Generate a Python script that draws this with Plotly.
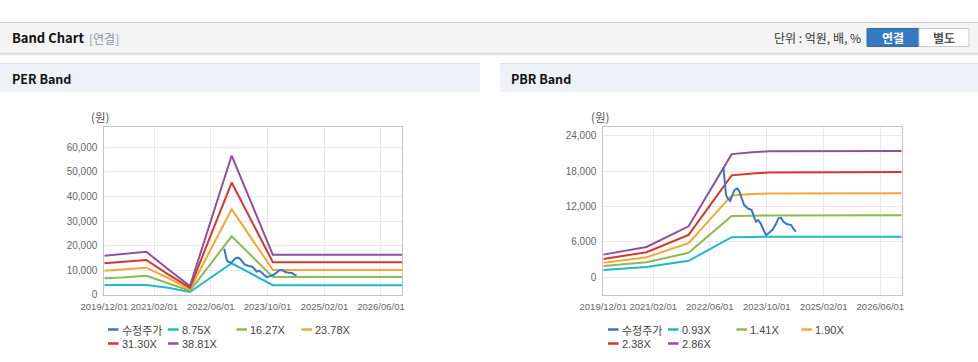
import plotly.graph_objects as go

W, H = 978, 362

# ---------------- data ----------------
per_dates = ["2019-12-01", "2020-05-01", "2020-11-25", "2021-06-01", "2021-12-05",
             "2022-11-28", "2023-11-16", "2026-12-01"]
per_875 = [3950, 3950, 3950, 2850, 1100, 12800, 3900, 3900]
per_1627 = [6700, 7000, 7750, 4650, 1600, 23800, 7250, 7250]
per_2378 = [9800, 10200, 11000, 6800, 2200, 34800, 10100, 10100]
per_3130 = [12800, 13300, 14150, 8300, 2850, 45700, 13250, 13250]
per_3881 = [15900, 16500, 17500, 10350, 3500, 56700, 16250, 16250]

pbr_dates = ["2019-12-01", "2020-12-05", "2021-12-01", "2022-12-05", "2023-06-01",
             "2023-10-20", "2026-12-01"]
pbr_093 = [1240, 1750, 2800, 6800, 6850, 6900, 6900]
pbr_141 = [1900, 2550, 4150, 10400, 10450, 10500, 10550]
pbr_190 = [2450, 3400, 5800, 13900, 14150, 14200, 14250]
pbr_238 = [3100, 4250, 7200, 17300, 17600, 17800, 17850]
pbr_286 = [3850, 5150, 8650, 20900, 21200, 21400, 21450]

price_dates = ["2022-09-25", "2022-10-04", "2022-10-18", "2022-11-01", "2022-11-22",
               "2022-12-07", "2022-12-28", "2023-01-22", "2023-02-10", "2023-03-01",
               "2023-03-22", "2023-04-22", "2023-05-25", "2023-06-15", "2023-07-01",
               "2023-07-20", "2023-08-10", "2023-09-04", "2023-09-25", "2023-10-22",
               "2023-11-18", "2023-12-15", "2024-01-10", "2024-02-01", "2024-02-22",
               "2024-03-20", "2024-04-28", "2024-05-15", "2024-06-06"]
price_values = [18700, 17050, 13950, 13390, 12985, 13670, 14800, 15085, 14510, 13390,
                12255, 11695, 11410, 10270, 9425, 9710, 9150, 8020, 7170, 7560,
                8020, 8865, 10000, 10100, 9425, 9035, 8865, 8300, 7730]

per_names = ["수정주가", "8.75X", "16.27X", "23.78X", "31.30X", "38.81X"]
pbr_names = ["수정주가", "0.93X", "1.41X", "1.90X", "2.38X", "2.86X"]
series_colors = ["#3278c8", "#1fb8cc", "#8dbb4e", "#f6a634", "#d8362c", "#8f4f9f"]

x_tickvals = ["2019-12-01", "2021-02-01", "2022-06-01", "2023-10-01", "2025-02-01", "2026-06-01"]
x_ticktext = ["2019/12/01", "2021/02/01", "2022/06/01", "2023/10/01", "2025/02/01", "2026/06/01"]
x_range = ["2019-12-01", "2026-12-01"]
per_yticks = [0, 10000, 20000, 30000, 40000, 50000, 60000]
pbr_yticks = [0, 6000, 12000, 18000, 24000]

# ---------------- helpers ----------------
def px(x):
    return x / W

def py(y):
    return 1 - y / H

fig = go.Figure()

per_bands = [per_875, per_1627, per_2378, per_3130, per_3881]
pbr_bands = [pbr_093, pbr_141, pbr_190, pbr_238, pbr_286]

for i, vals in enumerate(per_bands):
    fig.add_trace(go.Scatter(x=per_dates, y=vals, mode="lines", name=per_names[i + 1],
                             line=dict(color=series_colors[i + 1], width=2),
                             xaxis="x", yaxis="y", showlegend=False, hoverinfo="skip"))
fig.add_trace(go.Scatter(x=price_dates, y=price_values, mode="lines", name=per_names[0],
                         line=dict(color=series_colors[0], width=2),
                         xaxis="x", yaxis="y", showlegend=False))

for i, vals in enumerate(pbr_bands):
    fig.add_trace(go.Scatter(x=pbr_dates, y=vals, mode="lines", name=pbr_names[i + 1],
                             line=dict(color=series_colors[i + 1], width=2),
                             xaxis="x2", yaxis="y2", showlegend=False, hoverinfo="skip"))
fig.add_trace(go.Scatter(x=price_dates, y=price_values, mode="lines", name=pbr_names[0],
                         line=dict(color=series_colors[0], width=2),
                         xaxis="x2", yaxis="y2", showlegend=False))

xtickfont = dict(family="Liberation Sans, Arial, sans-serif", size=9.5, color="#666666")
ytickfont = dict(family="Liberation Sans, Arial, sans-serif", size=10, color="#666666")
ydom = [py(294.7), py(127.3)]

xaxis_common = dict(type="date", range=x_range, tickvals=x_tickvals, ticktext=x_ticktext,
                    tickangle=0, automargin=False,
                    showgrid=True, gridcolor="#e9e9e9", gridwidth=1,
                    showline=True, linecolor="#c4c4c4", linewidth=1, mirror=True,
                    ticks="outside", ticklen=3, tickcolor="rgba(0,0,0,0)",
                    tickfont=xtickfont, zeroline=False, fixedrange=True)
yaxis_common = dict(showgrid=True, gridcolor="#e9e9e9", gridwidth=1, automargin=False,
                    showline=True, linecolor="#c4c4c4", linewidth=1, mirror=True,
                    ticks="outside", ticklen=4, tickcolor="rgba(0,0,0,0)",
                    tickformat=",d", tickfont=ytickfont, zeroline=False, fixedrange=True)

fig.update_layout(
    width=W, height=H, autosize=False,
    margin=dict(l=0, r=0, t=0, b=0, pad=0, autoexpand=False),
    paper_bgcolor="white", plot_bgcolor="white",
    showlegend=False,
    xaxis=dict(domain=[px(104.3), px(402.3)], anchor="y", **xaxis_common),
    yaxis=dict(domain=ydom, anchor="x", range=[0, 68200], tickvals=per_yticks, **yaxis_common),
    xaxis2=dict(domain=[px(603.3), px(901.7)], anchor="y2", **xaxis_common),
    yaxis2=dict(domain=ydom, anchor="x2", range=[-2950, 25450], tickvals=pbr_yticks, **yaxis_common),
)

shapes = []
annotations = []

def rect(x0, y0, x1, y1, fill, line=None, lw=0):
    shapes.append(dict(type="rect", xref="paper", yref="paper", x0=px(x0), x1=px(x1),
                       y0=py(y1), y1=py(y0), fillcolor=fill,
                       line=dict(color=line or fill, width=lw), layer="below"))

def hline(x0, x1, y, color, width=1):
    shapes.append(dict(type="line", xref="paper", yref="paper", x0=px(x0), x1=px(x1),
                       y0=py(y), y1=py(y), line=dict(color=color, width=width)))

def text(x, y, s, size=12, color="#222", bold=False, anchor="left", family="Noto Sans CJK KR, sans-serif"):
    if bold:
        s = "<b>" + s + "</b>"
    annotations.append(dict(xref="paper", yref="paper", x=px(x), y=py(y), text=s,
                            showarrow=False, xanchor=anchor, yanchor="middle",
                            borderpad=0,
                            font=dict(size=size, color=color, family=family)))

# top header bar
rect(0, 22, 978, 53, "#f4f4f4")
hline(0, 978, 22.5, "#cfcfcf")
hline(0, 978, 53.5, "#d6d6d6")
hline(0, 978, 54.5, "#e6e6e6")
hline(0, 978, 55.5, "#f2f2f2")
text(11, 38, "Band Chart", size=13, color="#111", bold=True)
text(88, 38.5, "[연결]", size=12, color="#8a97a8")
text(862, 38, "단위 : 억원, 배, %", size=12, color="#333", anchor="right")
# buttons
rect(867, 28.5, 919, 46.5, "#357ac0", "#2e6aa8", 1)
rect(919, 28.5, 969, 46.5, "#ffffff", "#c8c8c8", 1)
text(893, 37.5, "연결", size=12, color="#ffffff", bold=True, anchor="center")
text(944, 37.5, "별도", size=12, color="#555555", bold=True, anchor="center")

# panel headers
rect(0, 63, 480, 92, "#eef2f7")
hline(0, 480, 63.5, "#dcdfe3")
rect(500, 63, 978, 92, "#eef2f7")
hline(500, 978, 63.5, "#dcdfe3")
text(11, 78, "PER Band", size=12.5, color="#111", bold=True)
text(510, 78, "PBR Band", size=12.5, color="#111", bold=True)

# unit labels
text(99.5, 117, "(원)", size=11.5, color="#555", anchor="center")
text(599.5, 117, "(원)", size=11.5, color="#555", anchor="center")

# legends
leg_cols = [108, 168, 236.5, 301.5]
leg_rows = [329.5, 343.5]
legend_font = "Liberation Sans, Arial, sans-serif"
for offset, names in ((0, per_names), (500, pbr_names)):
    for i, name in enumerate(names):
        row, col = divmod(i, 4)
        x0 = leg_cols[col] + offset
        yy = leg_rows[row]
        hline(x0, x0 + 10.5, yy, series_colors[i], 2.5)
        fam = "Noto Sans CJK KR, sans-serif" if i == 0 else legend_font
        text(x0 + 12.5, yy, name, size=11, color="#444", family=fam)

fig.update_layout(shapes=shapes, annotations=annotations)

fix_page = ("document.documentElement.style.margin='0';document.documentElement.style.padding='0';"
            "document.body.style.margin='0';document.body.style.padding='0';"
            "document.body.style.overflow='hidden';document.documentElement.style.overflow='hidden';")
fig.write_html("out.html", post_script=fix_page, config={"displayModeBar": False, "responsive": False})
